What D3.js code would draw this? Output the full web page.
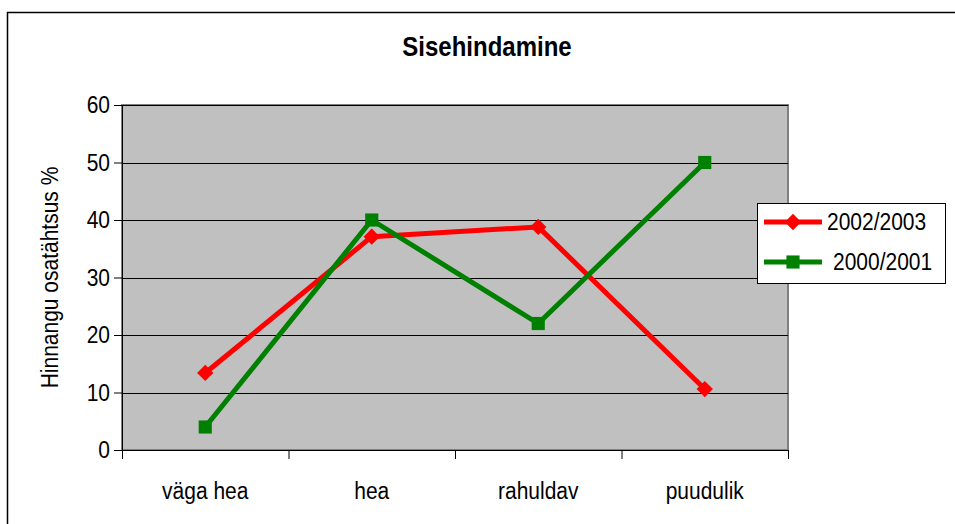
<!DOCTYPE html>
<html>
<head>
<meta charset="utf-8">
<script src="https://cdn.jsdelivr.net/npm/d3@7"></script>
<style>
  body { margin: 0; background: #fff; }
  text { font-family: "Liberation Sans", Arial, sans-serif; fill: #000; }
</style>
</head>
<body>
<div id="chart"></div>
<script>
const categories = ['väga hea', 'hea', 'rahuldav', 'puudulik'];
const seriesNames = ['2002/2003', '2000/2001'];
const values2002 = [13.4, 37.1, 38.8, 10.6];
const values2000 = [4, 40, 22, 50];
const yTicks = [0, 10, 20, 30, 40, 50, 60];
const colors = ['#ff0000', '#008000'];

const width = 955, height = 524;
const plot = { left: 122, right: 788, top: 105, bottom: 450 };
const stretch = 'scale(1,1.12)';

const svg = d3.select('#chart').append('svg')
    .attr('width', width).attr('height', height);

// outer chart border
svg.append('rect').attr('x', 7.5).attr('y', 12.5)
    .attr('width', 960).attr('height', 530)
    .style('fill', '#fff').style('stroke', '#000').style('stroke-width', 1.5);

const x = d3.scaleBand().domain(categories).range([plot.left, plot.right]);
const y = d3.scaleLinear().domain([0, 60]).range([plot.bottom, plot.top]);

// plot area
svg.append('rect').attr('x', plot.left).attr('y', plot.top)
    .attr('width', plot.right - plot.left).attr('height', plot.bottom - plot.top)
    .style('fill', '#c0c0c0').style('stroke', '#808080').style('stroke-width', 2);

// gridlines
svg.append('g').selectAll('line').data(yTicks.filter(d => d > 0)).join('line')
    .attr('x1', plot.left).attr('x2', plot.right)
    .attr('y1', d => Math.round(y(d)) + 0.5).attr('y2', d => Math.round(y(d)) + 0.5)
    .style('stroke', '#000').style('stroke-width', 1);

// y axis
const yAxis = svg.append('g').attr('transform', 'translate(' + plot.left + ',0)')
    .call(d3.axisLeft(y).tickValues(yTicks).tickSize(8).tickPadding(4));
yAxis.select('.domain').style('stroke', '#000');
yAxis.selectAll('text').style('font-size', '21px').attr('transform', stretch);

// x axis with ticks at category boundaries
const xAxis = svg.append('g').attr('transform', 'translate(0,' + plot.bottom + ')');
xAxis.append('line').attr('x1', plot.left).attr('x2', plot.right)
    .attr('y1', 0.5).attr('y2', 0.5).style('stroke', '#000');
const bounds = categories.map(c => x(c)).concat([x.range()[1]]);
xAxis.selectAll('line.tick').data(bounds).join('line').attr('class', 'tick')
    .attr('x1', d => d + 0.5).attr('x2', d => d + 0.5)
    .attr('y1', 0).attr('y2', 9).style('stroke', '#000');
xAxis.selectAll('text').data(categories).join('text')
    .attr('transform', d => 'translate(' + (x(d) + x.bandwidth() / 2) + ',49) ' + stretch)
    .attr('text-anchor', 'middle').style('font-size', '21px')
    .text(d => d);

// title
svg.append('text').attr('transform', 'translate(487,56) scale(1,1.15)').attr('text-anchor', 'middle')
    .style('font-size', '24px').style('font-weight', 'bold').text('Sisehindamine');

// y axis title
svg.append('text')
    .attr('transform', 'translate(58,' + ((plot.top + plot.bottom) / 2) + ') rotate(-90) ' + stretch)
    .attr('text-anchor', 'middle').style('font-size', '21px')
    .text('Hinnangu osatähtsus %');

// lines and markers
const line = d3.line().x((d, i) => x(categories[i]) + x.bandwidth() / 2).y(d => y(d));
const allSeries = [values2002, values2000];

allSeries.forEach((vals, s) => {
  svg.append('path').datum(vals).attr('d', line)
      .style('fill', 'none').style('stroke', colors[s]).style('stroke-width', 5)
      .style('stroke-linejoin', 'round');
});

const diamond = d3.symbol().type(d3.symbolDiamond2).size(170);
const square = d3.symbol().type(d3.symbolSquare2).size(220);
const shapes = [diamond, square];

allSeries.forEach((vals, s) => {
  svg.append('g').selectAll('path').data(vals).join('path')
      .attr('transform', (d, i) => 'translate(' + (x(categories[i]) + x.bandwidth() / 2) + ',' + y(d) + ')')
      .attr('d', shapes[s])
      .style('fill', colors[s]).style('stroke', 'none');
});

// legend
const legend = svg.append('g');
legend.append('rect').attr('x', 757.5).attr('y', 203.5).attr('width', 188).attr('height', 80)
    .style('fill', '#fff').style('stroke', '#000').style('stroke-width', 1);
seriesNames.forEach((name, s) => {
  const ly = 222 + s * 40;
  legend.append('line').attr('x1', 764).attr('x2', 822).attr('y1', ly).attr('y2', ly)
      .style('stroke', colors[s]).style('stroke-width', 5);
  legend.append('path').attr('transform', 'translate(793,' + ly + ')').attr('d', shapes[s])
      .style('fill', colors[s]);
  legend.append('text').attr('transform', 'translate(' + (s === 0 ? 827 : 833) + ',' + (ly + 8) + ') ' + stretch)
      .style('font-size', '21px').text(name);
});
</script>
</body>
</html>
